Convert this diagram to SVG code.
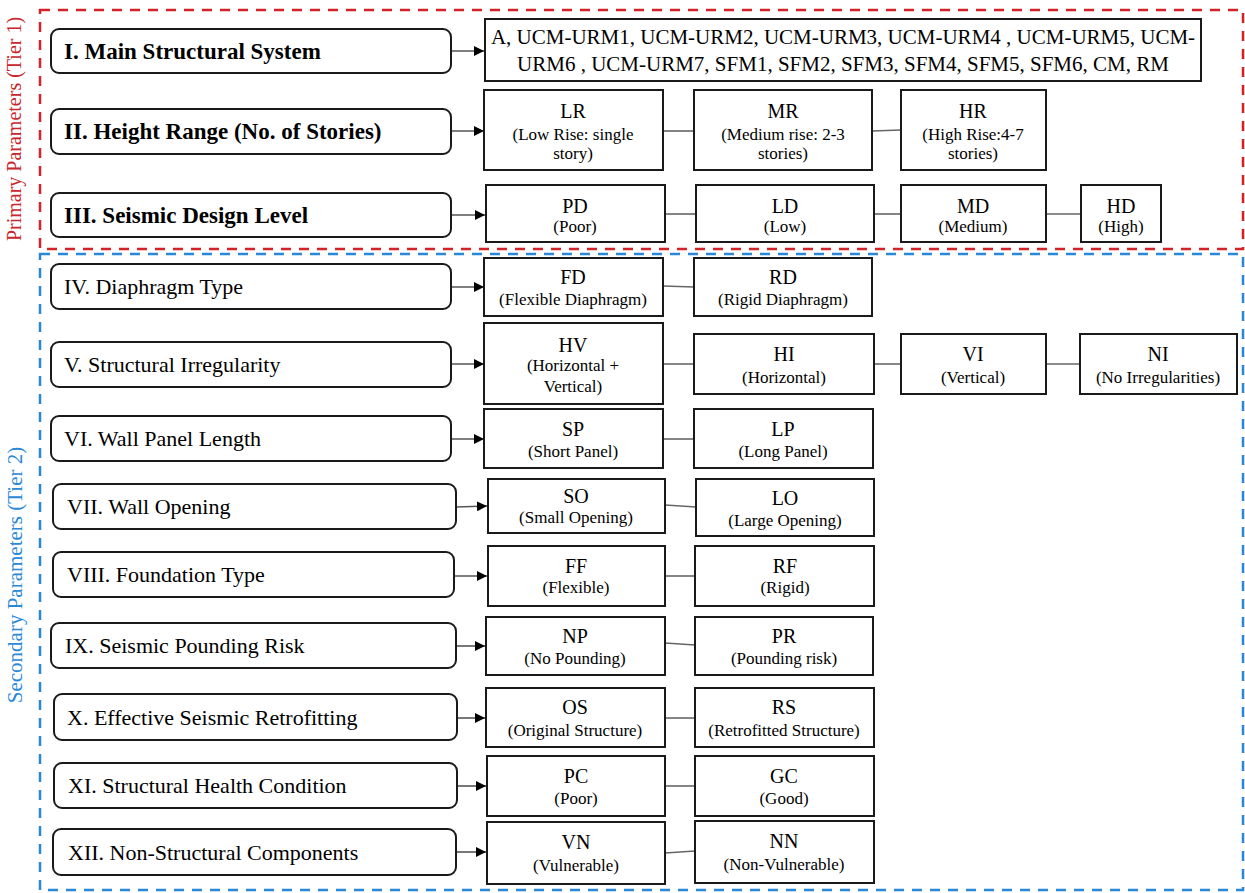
<svg xmlns="http://www.w3.org/2000/svg" width="1245" height="893" viewBox="0 0 1245 893">
<style>
.bg{fill:#fff}
.frame-red{fill:none;stroke:#d42229;stroke-width:2.5;stroke-dasharray:10 8}
.frame-blue{fill:none;stroke:#2a88d8;stroke-width:2.5;stroke-dasharray:10 8}
.tier{font-family:"Liberation Serif","Times New Roman",serif;font-size:20px;text-anchor:middle}
.param{fill:#fff;stroke:#1a1a1a;stroke-width:2}
.opt{fill:#fff;stroke:#1a1a1a;stroke-width:2}
.lb{font-family:"Liberation Serif","Times New Roman",serif;font-size:23px;font-weight:bold;fill:#000}
.ln{font-family:"Liberation Serif","Times New Roman",serif;font-size:22px;fill:#000}
.ac{font-family:"Liberation Serif","Times New Roman",serif;font-size:20px;fill:#000;text-anchor:middle}
.sb{font-family:"Liberation Serif","Times New Roman",serif;font-size:17px;fill:#000;text-anchor:middle}
.big{font-family:"Liberation Serif","Times New Roman",serif;font-size:21px;fill:#000;text-anchor:middle}
.arrow{stroke:#555;stroke-width:1.6;fill:none;marker-end:url(#ah)}
.link{stroke:#666;stroke-width:1.6;fill:none}
</style>
<defs>
<marker id="ah" markerUnits="userSpaceOnUse" markerWidth="11" markerHeight="10" refX="10" refY="5" orient="auto">
<path d="M0,0 L10,5 L0,10 Z" fill="#000"/>
</marker>
</defs>
<rect class="bg" x="0" y="0" width="1245" height="893"/>

<g id="tier1">
<rect class="frame-red" x="40" y="10" width="1203" height="239"/>
<text class="tier" fill="#c9252b" transform="translate(21,129) rotate(-90)">Primary Parameters (Tier 1)</text>
</g>
<g id="tier2">
<rect class="frame-blue" x="40" y="254" width="1203" height="636"/>
<text class="tier" fill="#2a88d8" style="font-size:21px" transform="translate(22,575) rotate(-90)">Secondary Parameters (Tier 2)</text>
</g>

<g id="connectors">
<line class="arrow" x1="451" y1="51" x2="484" y2="51"/>
<line class="arrow" x1="451" y1="131" x2="484" y2="131"/>
<line class="arrow" x1="451" y1="215" x2="485" y2="215"/>
<line class="arrow" x1="451" y1="287" x2="484" y2="287"/>
<line class="arrow" x1="451" y1="364" x2="484" y2="364"/>
<line class="arrow" x1="451" y1="439" x2="484" y2="439"/>
<line class="arrow" x1="456" y1="507" x2="487" y2="506"/>
<line class="arrow" x1="454" y1="576" x2="487" y2="576"/>
<line class="arrow" x1="456" y1="646" x2="485" y2="646"/>
<line class="arrow" x1="457" y1="718" x2="485" y2="718"/>
<line class="arrow" x1="457" y1="786" x2="486" y2="786"/>
<line class="arrow" x1="456" y1="852" x2="486" y2="852"/>

<line class="link" x1="663" y1="131" x2="694" y2="131"/>
<line class="link" x1="872" y1="131" x2="901" y2="130"/>
<line class="link" x1="665" y1="214" x2="696" y2="214"/>
<line class="link" x1="874" y1="214" x2="901" y2="214"/>
<line class="link" x1="1046" y1="214" x2="1081" y2="214"/>
<line class="link" x1="663" y1="286" x2="694" y2="287"/>
<line class="link" x1="663" y1="364" x2="694" y2="364"/>
<line class="link" x1="874" y1="364" x2="901" y2="364"/>
<line class="link" x1="1046" y1="364" x2="1080" y2="364"/>
<line class="link" x1="663" y1="439" x2="694" y2="439"/>
<line class="link" x1="665" y1="505" x2="696" y2="507"/>
<line class="link" x1="665" y1="576" x2="695" y2="576"/>
<line class="link" x1="665" y1="643" x2="695" y2="645"/>
<line class="link" x1="665" y1="718" x2="695" y2="718"/>
<line class="link" x1="665" y1="786" x2="695" y2="786"/>
<line class="link" x1="665" y1="853" x2="695" y2="851"/>
</g>

<g id="p1"><rect class="param" x="51" y="29" width="400" height="44" rx="8"/><text class="lb" x="64" y="59">I. Main Structural System</text></g>
<g id="p2"><rect class="param" x="51" y="109" width="400" height="45" rx="8"/><text class="lb" x="64" y="139">II. Height Range (No. of Stories)</text></g>
<g id="p3"><rect class="param" x="51" y="193" width="400" height="44" rx="8"/><text class="lb" x="64" y="223">III. Seismic Design Level</text></g>
<g id="p4"><rect class="param" x="51" y="264" width="400" height="45" rx="8"/><text class="ln" x="64" y="294">IV. Diaphragm Type</text></g>
<g id="p5"><rect class="param" x="51" y="342" width="400" height="45" rx="8"/><text class="ln" x="64" y="372">V. Structural Irregularity</text></g>
<g id="p6"><rect class="param" x="51" y="416" width="400" height="45" rx="8"/><text class="ln" x="64" y="446">VI. Wall Panel Length</text></g>
<g id="p7"><rect class="param" x="53" y="484" width="403" height="45" rx="8"/><text class="ln" x="67" y="514">VII. Wall Opening</text></g>
<g id="p8"><rect class="param" x="53" y="552" width="401" height="45" rx="8"/><text class="ln" x="67" y="582">VIII. Foundation Type</text></g>
<g id="p9"><rect class="param" x="51" y="623" width="405" height="45" rx="8"/><text class="ln" x="65" y="653">IX. Seismic Pounding Risk</text></g>
<g id="p10"><rect class="param" x="54" y="694" width="403" height="46" rx="8"/><text class="ln" x="67" y="725">X. Effective Seismic Retrofitting</text></g>
<g id="p11"><rect class="param" x="54" y="763" width="403" height="45" rx="8"/><text class="ln" x="68" y="793">XI. Structural Health Condition</text></g>
<g id="p12"><rect class="param" x="53" y="829" width="403" height="46" rx="8"/><text class="ln" x="68" y="860">XII. Non-Structural Components</text></g>

<g id="o1"><rect class="opt" x="485" y="19" width="716" height="62"/>
<text class="big" x="843" y="44">A, UCM-URM1, UCM-URM2, UCM-URM3, UCM-URM4 , UCM-URM5, UCM-</text>
<text class="big" x="843" y="71">URM6 , UCM-URM7, SFM1, SFM2, SFM3, SFM4, SFM5, SFM6, CM, RM</text></g>

<g id="lr"><rect class="opt" x="484" y="90" width="179" height="80"/><text class="ac" x="573" y="118">LR</text><text class="sb" x="573" y="140">(Low Rise: single</text><text class="sb" x="573" y="159">story)</text></g>
<g id="mr"><rect class="opt" x="694" y="90" width="178" height="80"/><text class="ac" x="783" y="118">MR</text><text class="sb" x="783" y="140">(Medium rise: 2-3</text><text class="sb" x="783" y="159">stories)</text></g>
<g id="hr"><rect class="opt" x="901" y="90" width="145" height="80"/><text class="ac" x="973" y="118">HR</text><text class="sb" x="973" y="140">(High Rise:4-7</text><text class="sb" x="973" y="159">stories)</text></g>

<g id="pd"><rect class="opt" x="486" y="185" width="179" height="57"/><text class="ac" x="575" y="213">PD</text><text class="sb" x="575" y="232">(Poor)</text></g>
<g id="ld"><rect class="opt" x="696" y="185" width="178" height="57"/><text class="ac" x="785" y="213">LD</text><text class="sb" x="785" y="232">(Low)</text></g>
<g id="md"><rect class="opt" x="901" y="185" width="145" height="57"/><text class="ac" x="973" y="213">MD</text><text class="sb" x="973" y="232">(Medium)</text></g>
<g id="hd"><rect class="opt" x="1081" y="185" width="80" height="57"/><text class="ac" x="1121" y="213">HD</text><text class="sb" x="1121" y="232">(High)</text></g>

<g id="fd"><rect class="opt" x="484" y="258" width="179" height="58"/><text class="ac" x="573" y="284">FD</text><text class="sb" x="573" y="305">(Flexible Diaphragm)</text></g>
<g id="rd"><rect class="opt" x="694" y="258" width="178" height="58"/><text class="ac" x="783" y="284">RD</text><text class="sb" x="783" y="305">(Rigid Diaphragm)</text></g>

<g id="hv"><rect class="opt" x="484" y="323" width="179" height="81"/><text class="ac" x="573" y="352">HV</text><text class="sb" x="573" y="371">(Horizontal +</text><text class="sb" x="573" y="392">Vertical)</text></g>
<g id="hi"><rect class="opt" x="694" y="334" width="180" height="60"/><text class="ac" x="784" y="361">HI</text><text class="sb" x="784" y="383">(Horizontal)</text></g>
<g id="vi"><rect class="opt" x="901" y="334" width="145" height="60"/><text class="ac" x="973" y="361">VI</text><text class="sb" x="973" y="383">(Vertical)</text></g>
<g id="ni"><rect class="opt" x="1080" y="334" width="157" height="60"/><text class="ac" x="1158" y="361">NI</text><text class="sb" x="1158" y="383">(No Irregularities)</text></g>

<g id="sp"><rect class="opt" x="484" y="409" width="179" height="59"/><text class="ac" x="573" y="436">SP</text><text class="sb" x="573" y="457">(Short Panel)</text></g>
<g id="lp"><rect class="opt" x="694" y="409" width="179" height="59"/><text class="ac" x="783" y="436">LP</text><text class="sb" x="783" y="457">(Long Panel)</text></g>

<g id="so"><rect class="opt" x="488" y="479" width="177" height="54"/><text class="ac" x="576" y="503">SO</text><text class="sb" x="576" y="523">(Small Opening)</text></g>
<g id="lo"><rect class="opt" x="696" y="479" width="178" height="57"/><text class="ac" x="785" y="505">LO</text><text class="sb" x="785" y="526">(Large Opening)</text></g>

<g id="ff"><rect class="opt" x="488" y="546" width="177" height="60"/><text class="ac" x="576" y="573">FF</text><text class="sb" x="576" y="593">(Flexible)</text></g>
<g id="rf"><rect class="opt" x="695" y="546" width="179" height="60"/><text class="ac" x="785" y="573">RF</text><text class="sb" x="785" y="593">(Rigid)</text></g>

<g id="np"><rect class="opt" x="486" y="617" width="179" height="58"/><text class="ac" x="575" y="643">NP</text><text class="sb" x="575" y="664">(No Pounding)</text></g>
<g id="pr"><rect class="opt" x="695" y="617" width="178" height="58"/><text class="ac" x="784" y="643">PR</text><text class="sb" x="784" y="664">(Pounding risk)</text></g>

<g id="os"><rect class="opt" x="486" y="688" width="179" height="59"/><text class="ac" x="575" y="714">OS</text><text class="sb" x="575" y="736">(Original Structure)</text></g>
<g id="rs"><rect class="opt" x="695" y="688" width="179" height="59"/><text class="ac" x="784" y="714">RS</text><text class="sb" x="784" y="736">(Retrofitted Structure)</text></g>

<g id="pc"><rect class="opt" x="487" y="756" width="178" height="60"/><text class="ac" x="576" y="783">PC</text><text class="sb" x="576" y="804">(Poor)</text></g>
<g id="gc"><rect class="opt" x="695" y="756" width="179" height="60"/><text class="ac" x="784" y="783">GC</text><text class="sb" x="784" y="804">(Good)</text></g>

<g id="vn"><rect class="opt" x="487" y="822" width="178" height="62"/><text class="ac" x="576" y="849">VN</text><text class="sb" x="576" y="871">(Vulnerable)</text></g>
<g id="nn"><rect class="opt" x="695" y="821" width="179" height="62"/><text class="ac" x="784" y="848">NN</text><text class="sb" x="784" y="870">(Non-Vulnerable)</text></g>
</svg>
